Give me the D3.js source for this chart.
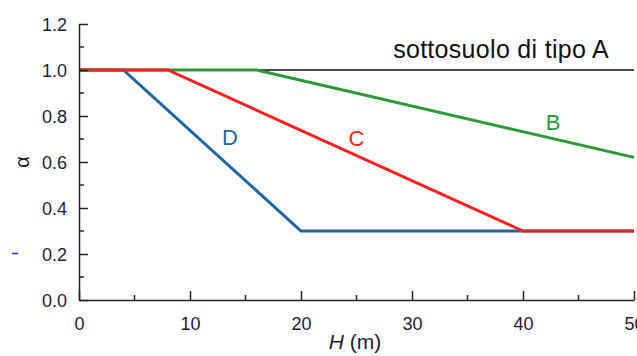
<!DOCTYPE html>
<html>
<head>
<meta charset="utf-8">
<script src="https://cdn.jsdelivr.net/npm/d3@7"></script>
<style>
  body { margin: 0; background: #fff; }
  svg { display: block; font-family: "Liberation Sans", Arial, sans-serif; }
</style>
</head>
<body>
<div id="chart"></div>
<script>
// data: alpha vs H for soil types
var seriesA = [{h: 0, a: 1.0}, {h: 50, a: 1.0}];
var seriesB = [{h: 0, a: 1.0}, {h: 16, a: 1.0}, {h: 50, a: 0.62}];
var seriesC = [{h: 0, a: 1.0}, {h: 8, a: 1.0}, {h: 40, a: 0.3}, {h: 50, a: 0.3}];
var seriesD = [{h: 0, a: 1.0}, {h: 4, a: 1.0}, {h: 20, a: 0.3}, {h: 50, a: 0.3}];

var xTicks = [0, 10, 20, 30, 40, 50];
var xMinor = [5, 15, 25, 35, 45];
var yTicks = [0, 0.2, 0.4, 0.6, 0.8, 1.0, 1.2];
var yMinor = [0.1, 0.3, 0.5, 0.7, 0.9, 1.1];

// curve labels: position in data units (baseline)
var labels = [
  {text: "B", h: 42.7, a: 0.74, color: "#2a9a36"},
  {text: "C", h: 25.0, a: 0.67, color: "#ff1f1f"},
  {text: "D", h: 13.6, a: 0.674, color: "#1f66a3"}
];

var width = 637, height = 356;
var x = d3.scaleLinear().domain([0, 50]).range([79, 634]);
var y = d3.scaleLinear().domain([0, 1.2]).range([300, 24]);

var svg = d3.select("#chart").append("svg")
    .attr("width", width)
    .attr("height", height);

var line = d3.line()
    .x(function(d){ return x(d.h) })
    .y(function(d){ return y(d.a) });

// series lines
svg.append("path").datum(seriesA)
    .attr("d", line).attr("fill", "none")
    .attr("stroke", "#111").attr("stroke-width", 1.5);
svg.append("path").datum(seriesB)
    .attr("d", line).attr("fill", "none")
    .attr("stroke", "#2a9a36").attr("stroke-width", 3);
svg.append("path").datum(seriesD)
    .attr("d", line).attr("fill", "none")
    .attr("stroke", "#1f66a3").attr("stroke-width", 3);
svg.append("path").datum(seriesC)
    .attr("d", line).attr("fill", "none")
    .attr("stroke", "#ff1f1f").attr("stroke-width", 3);

// axes (ticks pointing inward)
var xAxis = svg.append("g").attr("transform", "translate(0," + y(0) + ")")
    .call(d3.axisBottom(x).tickValues(xTicks).tickSize(-9).tickSizeOuter(0).tickFormat(d3.format("d")));
svg.append("g").attr("transform", "translate(0," + y(0) + ")")
    .selectAll("line").data(xMinor).enter().append("line")
    .attr("x1", function(d){ return x(d) }).attr("x2", function(d){ return x(d) })
    .attr("y1", 0).attr("y2", -5)
    .attr("stroke", "#222").attr("stroke-width", 1.5);

var yAxis = svg.append("g").attr("transform", "translate(" + x(0) + ",0)")
    .call(d3.axisLeft(y).tickValues(yTicks).tickSize(-9).tickSizeOuter(0).tickFormat(d3.format(".1f")));
svg.append("g").attr("transform", "translate(" + x(0) + ",0)")
    .selectAll("line").data(yMinor).enter().append("line")
    .attr("y1", function(d){ return y(d) }).attr("y2", function(d){ return y(d) })
    .attr("x1", 0).attr("x2", 5)
    .attr("stroke", "#222").attr("stroke-width", 1.5);

[xAxis, yAxis].forEach(function(g){
  g.select(".domain").attr("stroke", "#222").attr("stroke-width", 1.5);
  g.selectAll(".tick line").attr("stroke", "#222").attr("stroke-width", 1.5);
  g.selectAll(".tick text")
    .attr("fill", "#1c1c36")
    .style("font-size", "18px")
    .style("font-family", "'Liberation Sans', Arial, sans-serif");
});
xAxis.selectAll(".tick text").attr("y", 30).attr("dy", null);
yAxis.selectAll(".tick text").attr("x", -12).attr("dy", "0.36em");

// axis titles
var xt = svg.append("text")
    .attr("x", 355).attr("y", 349)
    .attr("text-anchor", "middle")
    .attr("fill", "#1c1c36")
    .style("font-size", "21px");
xt.append("tspan").style("font-style", "italic").text("H");
xt.append("tspan").text(" (m)");

svg.append("text")
    .attr("transform", "translate(29," + y(0.6) + ") rotate(-90)")
    .attr("text-anchor", "middle")
    .attr("fill", "#1c1c36")
    .style("font-size", "20px")
    .text("α");

// stray tick mark left of the axis
svg.append("line")
    .attr("x1", 12).attr("x2", 18)
    .attr("y1", y(0.2) - 0.5).attr("y2", y(0.2) - 0.5)
    .attr("stroke", "#2a2aff").attr("stroke-width", 1.5);

// labels
svg.append("text")
    .attr("x", 609).attr("y", 58)
    .attr("text-anchor", "end")
    .attr("fill", "#111")
    .style("font-size", "25px")
    .style("letter-spacing", "0.3px")
    .text("sottosuolo di tipo A");

svg.selectAll(".curve-label").data(labels).enter().append("text")
    .attr("class", "curve-label")
    .attr("x", function(d){ return x(d.h) })
    .attr("y", function(d){ return y(d.a) })
    .attr("text-anchor", "middle")
    .attr("fill", function(d){ return d.color })
    .style("font-size", "22px")
    .text(function(d){ return d.text });
</script>
</body>
</html>
